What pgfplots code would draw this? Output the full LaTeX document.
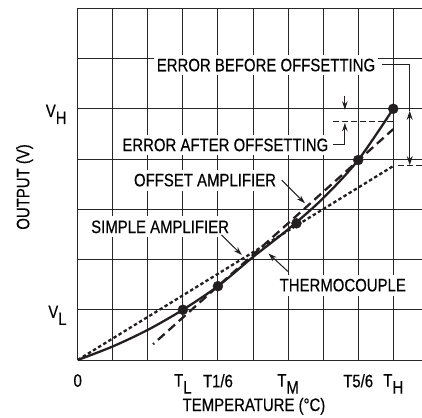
\documentclass[border=0pt]{standalone}
\usepackage{pgfplots}
\pgfplotsset{compat=1.18}
\usepackage{fontspec}
\setmainfont{Liberation Sans}[FakeStretch=0.83, FakeBold=0.4]
\usetikzlibrary{arrows.meta}
\definecolor{ink}{HTML}{231F20}
\newcommand\sub[1]{\raisebox{-7pt}{#1}}
\tikzset{
    label arrow/.style={ink, line width=1pt, -{Stealth[length=8.5pt, width=5.5pt]}},
    lbl/.style={fill=white, inner xsep=3pt, inner ysep=4pt},
}

\begin{document}
\fontsize{18pt}{21pt}\selectfont
\begin{tikzpicture}
\begin{axis}[
    scale only axis,
    width=344.3pt, height=351.7pt,
    xmin=0, xmax=9.82, ymin=0, ymax=7,
    axis line style={draw=none},
    major tick length=0pt,
    grid=major,
    major grid style={black!85, line width=0.95pt},
    xtick={0,...,9},
    xticklabels={0,,,T\sub{L},T1/6,,T\sub{M},,T5/6,T\sub{H}},
    ytick={0,...,7},
    yticklabels={,V\sub{L},,,,V\sub{H},,},
    xticklabel style={yshift=-8pt},
    yticklabel style={anchor=base east, xshift=-4.9pt, yshift=-8.2pt},
    xlabel={TEMPERATURE (°C)},
    ylabel={OUTPUT (V)},
    xlabel style={at={(rel axis cs:0.512,-0.145)}, anchor=base},
    ylabel style={at={(rel axis cs:-0.1406,0.492)}, anchor=base},
]
% thermocouple
\addplot[ink, line width=2.3pt, smooth, tension=0.5] coordinates {
    (0,0) (1,0.27) (2,0.6) (3,1.0) (4,1.47) (5,2.05)
    (6,2.6) (7,3.22) (8,3.98) (9,5.0)
};
% simple amplifier
\addplot[ink, line width=2.3pt, dash pattern=on 3.5pt off 2.5pt] coordinates {
    (0,0) (9,3.86)
};
% offset amplifier
\addplot[ink, line width=2.3pt, dash pattern=on 9pt off 5pt, dash phase=7.5pt] coordinates {
    (2.15,0.314) (9,4.595)
};
% reference levels
\addplot[ink, line width=1.3pt, dash pattern=on 6pt off 3pt] coordinates {
    (7.27,4.74) (8.98,4.74)
};
\addplot[ink, line width=1.3pt, dash pattern=on 6pt off 3pt] coordinates {
    (9.13,3.87) (9.82,3.87)
};
% points
\addplot[only marks, mark=*, mark size=5pt, ink] coordinates {
    (3,1) (4,1.47) (6.24,2.72) (8,3.98) (9,5)
};

\node[lbl] at (axis cs:5.37,5.87) {ERROR BEFORE OFFSETTING};
\node[lbl] at (axis cs:4.21,4.28) {ERROR AFTER OFFSETTING};
\node[lbl] at (axis cs:3.63,3.58) {OFFSET AMPLIFIER};
\node[lbl] at (axis cs:2.35,2.65) {SIMPLE AMPLIFIER};
\node[lbl] at (axis cs:7.56,1.49) {THERMOCOUPLE};

\draw[label arrow] (axis cs:4.1,2.49) -- (axis cs:4.68,2.09);
\draw[label arrow] (axis cs:5.82,3.58) -- (axis cs:6.48,3.12);
\draw[label arrow] (axis cs:6.0,1.76) -- (axis cs:5.44,2.12);
\draw[label arrow] (axis cs:7.62,5.26) -- (axis cs:7.62,4.98);
\draw[label arrow] (axis cs:7.29,4.29) -| (axis cs:7.62,4.72);
\draw[ink, line width=1pt] (axis cs:8.67,5.88) -| (axis cs:9.47,4.96);
\draw[ink, line width=1pt, {Stealth[length=9pt, width=6pt]}-{Stealth[length=9pt, width=6pt]}]
    (axis cs:9.47,4.96) -- (axis cs:9.47,3.88);
\end{axis}
\pgfresetboundingbox
\path[use as bounding box] (-77.7pt,-57pt) rectangle (344.3pt,360pt);
\end{tikzpicture}
\end{document}
